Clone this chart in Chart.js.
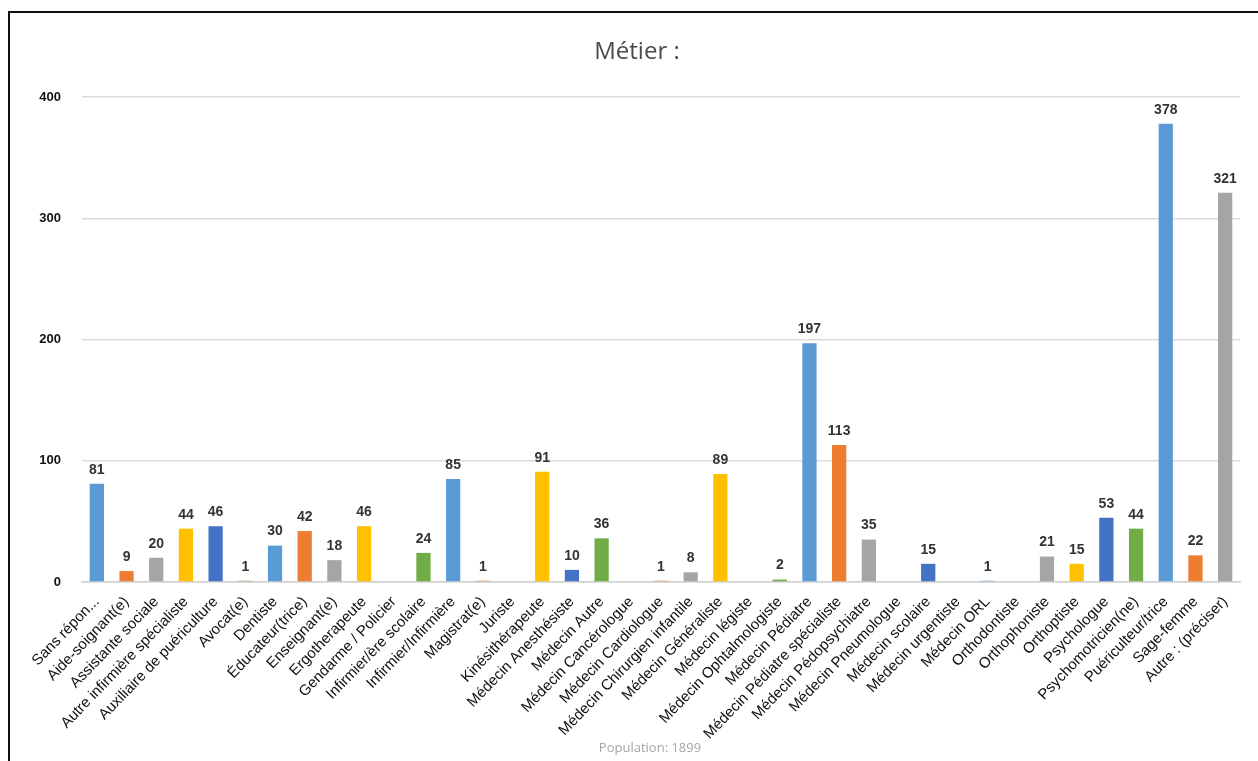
<!DOCTYPE html>
<html>
<head>
<meta charset="utf-8">
<script src="https://cdn.jsdelivr.net/npm/chart.js@4"></script>
<style>
  html, body { margin: 0; padding: 0; background: #fff; }
  #wrap { position: relative; width: 1258px; height: 761px; overflow: hidden; }
  #frame { position: absolute; left: 8px; top: 11px; right: 0; bottom: -10px;
           border-left: 2px solid #111; border-top: 2px solid #111; pointer-events: none; }
</style>
</head>
<body>
<div id="wrap">
  <canvas id="chart" width="1258" height="761"></canvas>
  <div id="frame"></div>
</div>
<script>
const LABELS = [
  'Sans répon...', 'Aide-soignant(e)', 'Assistante sociale', 'Autre infirmière spécialiste',
  'Auxiliaire de puériculture', 'Avocat(e)', 'Dentiste', 'Éducateur(trice)', 'Enseignant(e)',
  'Ergotherapeute', 'Gendarme / Policier', 'Infirmier/ère scolaire', 'Infirmier/Infirmière',
  'Magistrat(e)', 'Juriste', 'Kinésithérapeute', 'Médecin Anesthésiste', 'Médecin Autre',
  'Médecin Cancérologue', 'Médecin Cardiologue', 'Médecin Chirurgien infantile',
  'Médecin Généraliste', 'Médecin légiste', 'Médecin Ophtalmologiste', 'Médecin Pédiatre',
  'Médecin Pédiatre spécialiste', 'Médecin Pédopsychiatre', 'Médecin Pneumologue',
  'Médecin scolaire', 'Médecin urgentiste', 'Médecin ORL', 'Orthodontiste', 'Orthophoniste',
  'Orthoptiste', 'Psychologue', 'Psychomotricien(ne)', 'Puériculteur/trice', 'Sage-femme',
  'Autre : (préciser)'
];
const COUNTS = [
  81, 9, 20, 44, 46, 1, 30, 42, 18, 46, 0, 24, 85, 1, 0, 91, 10, 36, 0, 1, 8,
  89, 0, 2, 197, 113, 35, 0, 15, 0, 1, 0, 21, 15, 53, 44, 378, 22, 321
];
const PALETTE = ['#5B9BD5', '#ED7D31', '#A5A5A5', '#FFC000', '#4472C4', '#70AD47'];
const Y_TICKS = [0, 100, 200, 300, 400];
const TITLE = 'Métier :';
const FOOTNOTE = 'Population: 1899';

const FONT = "'Liberation Sans', Arial, sans-serif";

// value labels above each non-zero bar
const valueLabels = {
  id: 'valueLabels',
  afterDatasetsDraw(chart) {
    const ctx = chart.ctx;
    const meta = chart.getDatasetMeta(0);
    ctx.save();
    ctx.font = 'bold 14px ' + FONT;
    ctx.fillStyle = '#333';
    ctx.textAlign = 'center';
    ctx.textBaseline = 'bottom';
    meta.data.forEach((bar, i) => {
      const v = COUNTS[i];
      if (!v) return;
      ctx.fillText(String(v), bar.x, bar.y - 7);
    });
    ctx.restore();
  }
};

// title and population note, placed like the original export
const captions = {
  id: 'captions',
  afterDraw(chart) {
    const ctx = chart.ctx;
    ctx.save();
    ctx.textAlign = 'center';
    ctx.textBaseline = 'middle';
    ctx.font = "24px 'Open Sans', sans-serif";
    ctx.fillStyle = '#4a4a4a';
    ctx.fillText(TITLE, 637, 52);
    ctx.font = "13px 'Open Sans', sans-serif";
    ctx.fillStyle = '#a6a6a6';
    ctx.fillText(FOOTNOTE, 650, 748);
    ctx.restore();
  }
};

new Chart(document.getElementById('chart'), {
  type: 'bar',
  data: {
    labels: LABELS,
    datasets: [{
      data: COUNTS,
      backgroundColor: COUNTS.map((_, i) => PALETTE[i % PALETTE.length]),
      barPercentage: 0.48,
      categoryPercentage: 1
    }]
  },
  options: {
    responsive: false,
    animation: false,
    layout: { padding: { left: 0, right: 18, top: 97, bottom: 0 } },
    plugins: {
      legend: { display: false },
      tooltip: { enabled: false },
      title: { display: false }
    },
    scales: {
      x: {
        grid: { display: false },
        border: { display: true, color: '#d0d0d0', width: 1.5 },
        ticks: {
          autoSkip: false,
          minRotation: 46,
          maxRotation: 46,
          padding: 3,
          color: '#111',
          font: { family: FONT, size: 15 }
        },
        afterFit(scale) { scale.height = 179; }
      },
      y: {
        min: 0,
        max: 400,
        afterBuildTicks(scale) { scale.ticks = Y_TICKS.map(v => ({ value: v })); },
        grid: { color: '#dcdcdc', lineWidth: 1.5, drawTicks: false },
        border: { display: false },
        ticks: {
          padding: 21,
          color: '#111',
          font: { family: FONT, size: 13, weight: 'bold' }
        },
        afterFit(scale) { scale.width = 82; }
      }
    }
  },
  plugins: [valueLabels, captions]
});
</script>
</body>
</html>
